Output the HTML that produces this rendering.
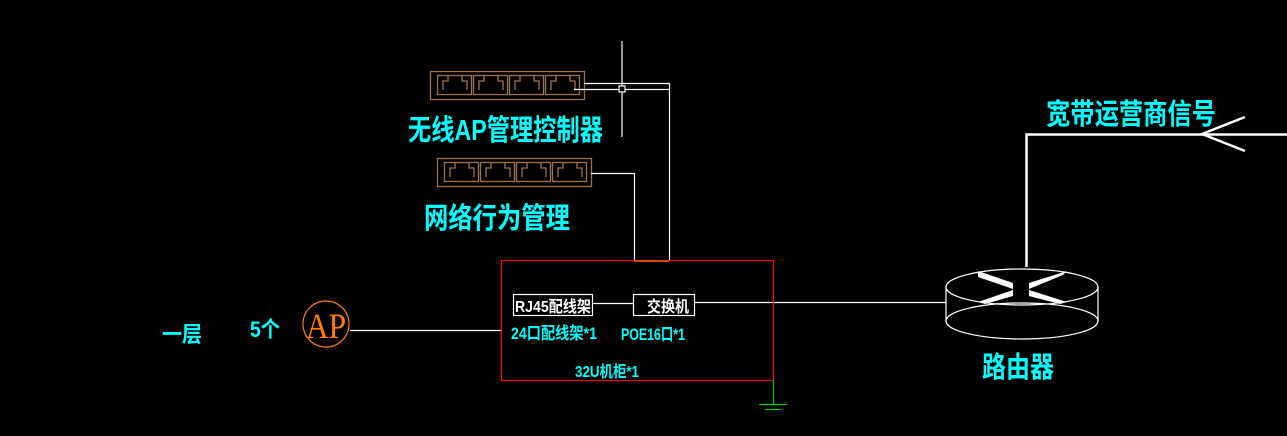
<!DOCTYPE html>
<html><head><meta charset="utf-8"><style>
html,body{margin:0;padding:0;background:#000;width:1287px;height:436px;overflow:hidden}
svg{display:block}
text{font-family:"Liberation Sans","WenQuanYi Zen Hei","Noto Sans CJK SC",sans-serif;font-weight:bold}
</style></head><body>
<svg width="1287" height="436" viewBox="0 0 1287 436" xmlns="http://www.w3.org/2000/svg">
<g stroke="#a0724a" fill="none" stroke-width="1.3">
<rect x="430.5" y="71.5" width="154" height="28"/>
<rect x="437.5" y="75.5" width="34" height="19"/><rect x="473.5" y="75.5" width="34" height="19"/><rect x="509.5" y="75.5" width="34" height="19"/><rect x="545.5" y="75.5" width="34" height="19"/>
<rect x="437.5" y="158.5" width="154" height="28"/>
<rect x="444.5" y="162.5" width="34" height="19"/><rect x="480.5" y="162.5" width="34" height="19"/><rect x="516.5" y="162.5" width="34" height="19"/><rect x="552.5" y="162.5" width="34" height="19"/>
<path d="M443 90v-9h5v-5 M467 90v-9h-5v-5 M479 90v-9h5v-5 M503 90v-9h-5v-5 M515 90v-9h5v-5 M539 90v-9h-5v-5 M551 90v-9h5v-5 M575 90v-9h-5v-5"/>
<path d="M450 177v-9h5v-5 M474 177v-9h-5v-5 M486 177v-9h5v-5 M510 177v-9h-5v-5 M522 177v-9h5v-5 M546 177v-9h-5v-5 M558 177v-9h5v-5 M582 177v-9h-5v-5"/>
</g>
<g stroke="#fff" fill="none" stroke-width="1.2">
<line x1="622" y1="41" x2="622" y2="137"/>
<line x1="574" y1="89.5" x2="670" y2="89.5"/>
<rect x="619" y="86" width="6" height="6" fill="#000"/>
<polyline points="584,83.5 669.5,83.5 669.5,260"/>
<polyline points="591,173.5 634.5,173.5 634.5,260"/>
<rect x="513.5" y="294.5" width="79" height="21"/>
<rect x="633.5" y="294.5" width="61" height="21"/>
<line x1="592" y1="303.5" x2="633" y2="303.5"/>
<line x1="694" y1="302.5" x2="946" y2="302.5"/>
<line x1="350" y1="330.5" x2="501" y2="330.5"/>
<ellipse cx="1022" cy="287" rx="76" ry="18"/>
<ellipse cx="1022" cy="321" rx="76" ry="18"/>
<line x1="946" y1="287" x2="946" y2="321"/><line x1="1098" y1="287" x2="1098" y2="321"/>
</g>
<rect x="501.5" y="260.5" width="272" height="120" fill="none" stroke="#f00" stroke-width="1.2"/>
<line x1="634" y1="261" x2="669" y2="261" stroke="#ff6000" stroke-width="1.5"/>
<g stroke="#0c0" stroke-width="1.2"><line x1="773.5" y1="380" x2="773.5" y2="404"/><line x1="759" y1="404.5" x2="787" y2="404.5"/><line x1="765" y1="409.5" x2="781" y2="409.5"/></g>
<g stroke="#fff" stroke-width="2.5" fill="none">
<polyline points="1026.5,267 1026.5,134.5 1287,134.5"/>
<line x1="1202" y1="134" x2="1245" y2="117"/><line x1="1202" y1="134" x2="1245" y2="151"/>
</g>
<g fill="#fff"><polygon points="978,271 1013,283 1013,289 978,277"/><polygon points="978,302 1013,290 1013,296 985,304"/>
<polygon points="1067,271 1029,283 1029,289 1063,275"/><polygon points="1067,302 1029,290 1029,296 1060,304"/></g>
<circle cx="326" cy="324" r="23" fill="none" stroke="#ff8000" stroke-width="1.2"/>
<text x="326" y="338" fill="#ff8000" font-family="Liberation Serif,serif" font-weight="normal" font-size="36" text-anchor="middle" textLength="40" lengthAdjust="spacingAndGlyphs" style="font-family:'Liberation Serif',serif;font-weight:normal">AP</text>
<g fill="#0ff">
<text x="408" y="140" font-size="29" textLength="195" lengthAdjust="spacingAndGlyphs">无线AP管理控制器</text>
<text x="424" y="228" font-size="29" textLength="146" lengthAdjust="spacingAndGlyphs">网络行为管理</text>
<text x="1046" y="124" font-size="29" textLength="170" lengthAdjust="spacingAndGlyphs">宽带运营商信号</text>
<text x="982" y="377" font-size="29" textLength="72" lengthAdjust="spacingAndGlyphs">路由器</text>
<text x="162" y="342" font-size="22" textLength="40" lengthAdjust="spacingAndGlyphs">一层</text>
<text x="250" y="337" font-size="22" textLength="30" lengthAdjust="spacingAndGlyphs">5个</text>
<text x="511" y="339" font-size="17" textLength="86" lengthAdjust="spacingAndGlyphs">24口配线架*1</text>
<text x="621" y="340" font-size="17" textLength="64" lengthAdjust="spacingAndGlyphs">POE16口*1</text>
<text x="575" y="377" font-size="16" textLength="64" lengthAdjust="spacingAndGlyphs">32U机柜*1</text>
</g>
<g fill="#fff">
<text x="515" y="312" font-size="16" textLength="76" lengthAdjust="spacingAndGlyphs">RJ45配线架</text>
<text x="647" y="312" font-size="16" textLength="42" lengthAdjust="spacingAndGlyphs">交换机</text>
</g>
</svg>
</body></html>
